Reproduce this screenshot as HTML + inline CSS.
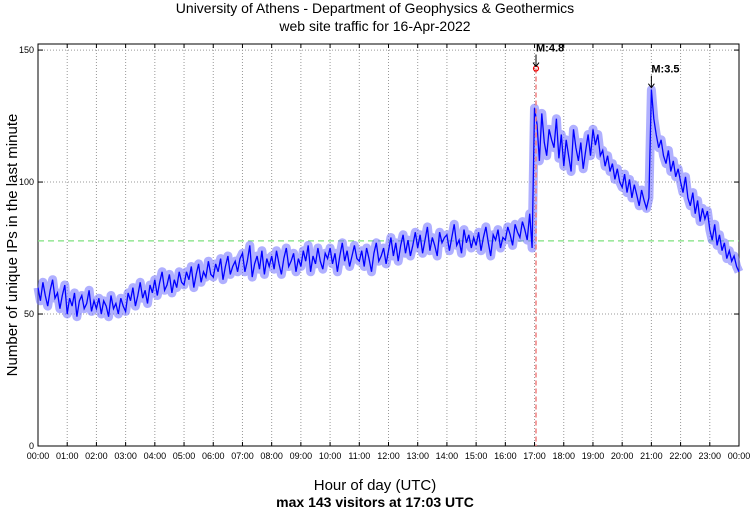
<!DOCTYPE html>
<html><head><meta charset="utf-8"><style>
body{margin:0;background:#fff;}
svg{display:block;font-family:"Liberation Sans",sans-serif;}
</style></head><body>
<svg id="chart" width="750" height="511" viewBox="0 0 750 511">
<text x="375" y="13" text-anchor="middle" font-size="14">University of Athens - Department of Geophysics &amp; Geothermics</text>
<text x="375" y="31" text-anchor="middle" font-size="14">web site traffic for 16-Apr-2022</text>
<text transform="translate(17,245) rotate(-90)" text-anchor="middle" font-size="15">Number of unique IPs in the last minute</text>
<text x="375" y="490" text-anchor="middle" font-size="15">Hour of day (UTC)</text>
<text x="375" y="507" text-anchor="middle" font-size="14" font-weight="bold">max 143 visitors at 17:03 UTC</text>
<g id="grid"></g><g id="series"></g><g id="annot"></g>
</svg>
<script>
const yTicks=[0,50,100,150];
const hourLabels=["00:00","01:00","02:00","03:00","04:00","05:00","06:00","07:00","08:00","09:00","10:00","11:00","12:00","13:00","14:00","15:00","16:00","17:00","18:00","19:00","20:00","21:00","22:00","23:00","00:00"];
const visitors=[
60,55,62,57,53,59,63,56,58,52,57,61,
50,56,53,58,49,55,57,52,54,59,51,55,
52,56,50,55,53,49,57,52,54,50,56,53,
51,58,55,60,53,57,62,56,59,54,61,58,
63,57,62,66,59,61,65,58,63,60,66,62,
61,66,63,68,60,65,69,62,66,64,70,65,
64,69,66,71,63,68,72,65,68,70,66,71,
73,66,70,76,64,69,72,67,74,65,71,68,
72,67,74,69,65,71,75,68,70,73,66,71,
68,74,70,76,66,72,69,75,70,67,73,71,
75,69,73,66,72,77,70,74,68,72,76,71,
70,74,68,75,71,66,73,77,70,72,75,69,
74,79,72,77,70,76,80,73,78,72,76,81,
75,80,73,78,83,74,79,76,72,81,77,79,
80,74,79,84,76,78,73,82,77,80,75,79,
76,81,74,79,83,77,72,80,78,82,75,79,
78,83,80,76,84,81,79,85,82,78,88,75,
128,122,108,126,115,110,120,116,113,124,109,118,
106,116,110,104,120,113,108,115,105,112,118,110,
120,114,118,110,112,106,110,104,107,101,105,100,
98,103,96,101,94,99,95,91,97,93,90,94,
135,124,118,113,116,110,107,112,104,108,102,105,
100,96,102,94,91,96,88,93,85,90,86,89,
82,78,84,76,80,74,77,71,74,70,72,68,66];
const stepMinutes=5;
const meanValue=77.7;
const maxValue=143, maxMinute=17*60+3;
const quake1={label:"M:4.8",minute:17*60+3,value:143};
const quake2={label:"M:3.5",minute:21*60,value:135};

const L=38,R=739,T=44,B=446,YMAX=152.3;
const X=m=>L+m/1440*(R-L);
const Y=v=>B-v/YMAX*(B-T);
const NS="http://www.w3.org/2000/svg";
function mk(tag,attrs,parent){const e=document.createElementNS(NS,tag);for(const k in attrs)e.setAttribute(k,attrs[k]);parent.appendChild(e);return e;}
const grid=document.getElementById('grid'),series=document.getElementById('series'),annot=document.getElementById('annot');

hourLabels.forEach((lab,i)=>{
 const x=X(i*60);
 if(i>0&&i<24){const g=mk('line',{x1:x,x2:x,y1:T,y2:B,stroke:'#999','stroke-dasharray':'1,2','stroke-width':1},grid);
 
 }
 mk('line',{x1:x,x2:x,y1:B,y2:B-4,stroke:'#000'},grid);
 mk('line',{x1:x,x2:x,y1:T,y2:T+4,stroke:'#000'},grid);
 const t=mk('text',{x:x,y:B+13,'text-anchor':'middle','font-size':9},grid);
 t.textContent=lab;
 
 
});
yTicks.forEach(v=>{
 const y=Y(v);
 if(v>0){const g=mk('line',{x1:L,x2:R,y1:y,y2:y,stroke:'#999','stroke-dasharray':'1,2'},grid);
 
 }
 mk('line',{x1:L,x2:L+5,y1:y,y2:y,stroke:'#000'},grid);
 mk('line',{x1:R,x2:R-5,y1:y,y2:y,stroke:'#000'},grid);
 const t=mk('text',{x:L-4,y:y+3,'text-anchor':'end','font-size':9},grid);
 t.textContent=v;
 
 
});
const frame=mk('rect',{x:L,y:T,width:R-L,height:B-T,fill:'none',stroke:'#000'},grid);



const mean=mk('line',{x1:L,x2:R,y1:Y(meanValue),y2:Y(meanValue),stroke:'#7fe07f','stroke-dasharray':'6,4','stroke-width':1.2},series);



let d='';
visitors.forEach((v,i)=>{d+=(i?'L':'M')+X(i*stepMinutes).toFixed(1)+','+Y(v).toFixed(1);});
const band=mk('path',{d:d,fill:'none',stroke:'#7070ff','stroke-width':9,'stroke-linejoin':'round','opacity':0.55},series);


const line=mk('path',{d:d,fill:'none',stroke:'#0000ff','stroke-width':1.3},series);



const mx=X(maxMinute);
const vl=mk('line',{x1:mx,x2:mx,y1:Y(maxValue),y2:B,stroke:'#f08080','stroke-dasharray':'5,3','stroke-width':1.5},annot);


const c=mk('circle',{cx:mx,cy:Y(maxValue),r:2.5,fill:'none',stroke:'#e00','stroke-width':1.2},annot);



[quake1,quake2].forEach(q=>{
 const x=X(q.minute),y=Y(q.value)-2;
 const a=mk('path',{d:`M${x},${y-12}L${x},${y}M${x-3},${y-4}L${x},${y}L${x+3},${y-4}`,stroke:'#000',fill:'none'},annot);
 
 
 const t=mk('text',{x:x,y:y-15,'font-size':11,'font-weight':'bold'},annot);
 t.textContent=q.label;
 
 
});
</script>
</body></html>
